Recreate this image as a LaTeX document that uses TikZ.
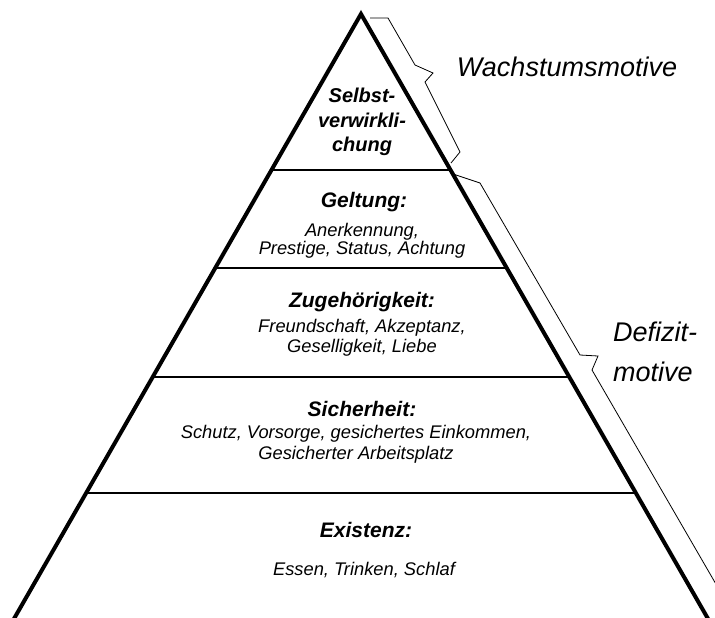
\documentclass[tikz,border=0pt]{standalone}
\usepackage{fontspec}
\setmainfont{Liberation Sans}
\usetikzlibrary{calc}
\tikzset{%
    edge/.style={draw, line width=4pt, line join=miter},
    level/.style={draw, line width=1.3pt},
    bracket/.style={draw, line width=0.8pt, line join=miter},
    title/.style={font=\bfseries\itshape\fontsize{21}{24}\selectfont, align=center, inner sep=0pt},
    desc/.style={font=\itshape\fontsize{18.3}{20}\selectfont, align=center, inner sep=0pt},
    motive/.style={font=\itshape\fontsize{27}{40}\selectfont, inner sep=0pt}
}

\begin{document}
\begin{tikzpicture}[x=1pt, y=-1pt]
    \path[use as bounding box, fill=white] (0,0) rectangle (715,618);
    \clip (0,0) rectangle (715,618);
    \coordinate (apex) at (361,14);
    \coordinate (bl) at (15,617);
    \coordinate (br) at (707,617);
    % pyramid
    \draw[edge] ($(apex)!1.03!(bl)$) -- (apex) -- ($(apex)!1.03!(br)$);
    \foreach \lv in {170,268,377,493} {
        \pgfmathsetmacro\lvpos{(\lv-14)/603}
        \draw[level] ($(apex)!\lvpos!(bl)$) -- ($(apex)!\lvpos!(br)$);
    }
    % texts
    \node[title, font=\bfseries\itshape\fontsize{20}{24.5}\selectfont] (selbst) at (362,122) {Selbst-\\verwirkli-\\chung};
    \node[title] (geltung) at (364,202) {Geltung:};
    \node[desc, font=\itshape\fontsize{18.3}{18.5}\selectfont] (geltungtxt) at (362,241) {Anerkennung,\\Prestige, Status, Achtung};
    \node[title] (zugeh) at (362,302) {Zugehörigkeit:};
    \node[desc] (zugehtxt) at (362,338) {Freundschaft, Akzeptanz,\\Geselligkeit, Liebe};
    \node[title] (sicher) at (362,409) {Sicherheit:};
    \node[desc, font=\itshape\fontsize{18.3}{21}\selectfont] (sichertxt) at (356,444) {Schutz, Vorsorge, gesichertes Einkommen,\\Gesicherter Arbeitsplatz};
    \node[title] (exist) at (366,530) {Existenz:};
    \node[desc] (existtxt) at (364,570) {Essen, Trinken, Schlaf};
    % braces
    \draw[bracket] (370,18) -- (388,18) -- (415,65) -- (433,73) -- (425,82) -- (460,152) -- (451,163);
    \draw[bracket] (453,174) -- (480,183) -- (580,355) -- (598,356) -- (592,370) -- (735,617);
    \node[motive] (wachstum) at (567,67) {Wachstumsmotive};
    \node[motive, align=left, anchor=west] (defizit) at (613,352) {Defizit-\\motive};
\end{tikzpicture}
\end{document}
